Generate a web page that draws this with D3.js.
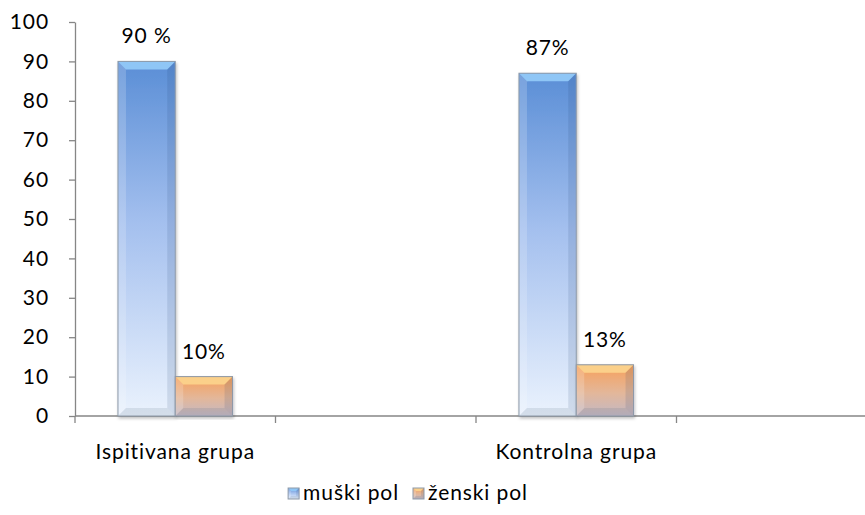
<!DOCTYPE html>
<html>
<head>
<meta charset="utf-8">
<script src="https://cdn.jsdelivr.net/npm/d3@7"></script>
<style>
  body { margin: 0; background: #fff; }
  text { font-family: Lato, "Liberation Sans", sans-serif; fill: #000; letter-spacing: 0.9px; }
</style>
</head>
<body>
<div id="vis"></div>
<script>
// categories (2nd and 4th slots are empty in the original)
var categories = ["Ispitivana grupa", "", "Kontrolna grupa", ""];
var seriesNames = ["muški pol", "ženski pol"];
var muskiValues = [90, null, 87, null];
var zenskiValues = [10, null, 13, null];
var muskiLabels = ["90 %", "", "87%", ""];
var zenskiLabels = ["10%", "", "13%", ""];
var yTicks = [0, 10, 20, 30, 40, 50, 60, 70, 80, 90, 100];

var width = 865, height = 515;
var margin = {top: 22, right: -12, bottom: 99, left: 75};
var fontSize = 21;

var svg = d3.select("#vis").append("svg")
    .attr("width", width)
    .attr("height", height);

var defs = svg.append("defs");

var grads = [
  {id: "gBlue", stops: [["0%", "#5a8ed6"], ["45%", "#a3bfee"], ["100%", "#eaf2fd"]]},
  {id: "gOrange", stops: [["0%", "#f7a05a"], ["55%", "#e3b79a"], ["100%", "#c3b8c4"]]}
];
grads.forEach(function (g) {
  var lg = defs.append("linearGradient").attr("id", g.id)
      .attr("x1", 0).attr("y1", 0).attr("x2", 0).attr("y2", 1);
  g.stops.forEach(function (s) {
    lg.append("stop").attr("offset", s[0]).attr("stop-color", s[1]);
  });
});
defs.append("filter").attr("id", "shadow")
  .attr("x", "-20%").attr("y", "-5%").attr("width", "140%").attr("height", "115%")
  .append("feDropShadow").attr("dx", 1).attr("dy", 2).attr("stdDeviation", 1.5)
  .attr("flood-color", "#000").attr("flood-opacity", 0.25);

var fills = {"muški pol": "url(#gBlue)", "ženski pol": "url(#gOrange)"};
var topBevel = {"muški pol": "#8fc6f6", "ženski pol": "#fbd08a"};

var x = d3.scaleBand()
    .domain(d3.range(categories.length))
    .range([margin.left, width - margin.right])
    .padding(0);

var xs = d3.scaleBand()
    .domain(seriesNames)
    .range([0, x.bandwidth()])
    .paddingInner(0)
    .paddingOuter(0.75);

var y = d3.scaleLinear()
    .domain([0, 100])
    .range([height - margin.bottom, margin.top]);

// axes
var yAxis = svg.append("g")
    .attr("transform", "translate(" + margin.left + ",0)")
    .call(d3.axisLeft(y).tickValues(yTicks).tickSize(6).tickSizeOuter(0).tickPadding(20));
yAxis.selectAll("path, line").attr("stroke", "#868686").attr("stroke-width", 1.3);
yAxis.selectAll("text").attr("font-size", fontSize).style("font-family", "Lato, sans-serif");

var xAxis = svg.append("g")
    .attr("transform", "translate(0," + y(0) + ")")
    .call(d3.axisBottom(x).tickSize(0).tickFormat(""));
xAxis.selectAll("path").attr("stroke", "#868686").attr("stroke-width", 1.3).attr("d", "M" + margin.left + ",0H" + (width - margin.right));

// tick marks at band boundaries
xAxis.selectAll("line.bound")
  .data(d3.range(categories.length))
  .join("line")
    .attr("class", "bound")
    .attr("x1", d => x(d)).attr("x2", d => x(d))
    .attr("y1", 0).attr("y2", 7)
    .attr("stroke", "#868686").attr("stroke-width", 1.3);

svg.append("g").selectAll("text")
  .data(d3.range(categories.length))
  .join("text")
    .attr("x", d => x(d) + x.bandwidth() / 2)
    .attr("y", y(0) + 43)
    .attr("text-anchor", "middle")
    .attr("font-size", fontSize)
    .text(d => categories[d]);

// bars
var rows = [];
d3.range(categories.length).forEach(function (i) {
  if (muskiValues[i] != null) rows.push({cat: i, s: "muški pol", v: muskiValues[i], lab: muskiLabels[i]});
  if (zenskiValues[i] != null) rows.push({cat: i, s: "ženski pol", v: zenskiValues[i], lab: zenskiLabels[i]});
});

function bevelBar(g, bx, by, bw, bh, s, b) {
  g.append("rect")
    .attr("x", bx).attr("y", by).attr("width", bw).attr("height", bh)
    .attr("fill", fills[s]);
  // top bevel
  g.append("path")
    .attr("d", `M${bx},${by}H${bx + bw}L${bx + bw - b},${by + b}H${bx + b}Z`)
    .attr("fill", topBevel[s]);
  // left bevel
  g.append("path")
    .attr("d", `M${bx},${by}L${bx + b},${by + b}V${by + bh - b}L${bx},${by + bh}Z`)
    .attr("fill", "#fff").attr("opacity", 0.18);
  // right bevel
  g.append("path")
    .attr("d", `M${bx + bw},${by}L${bx + bw - b},${by + b}V${by + bh - b}L${bx + bw},${by + bh}Z`)
    .attr("fill", "#1a3a6a").attr("opacity", 0.12);
  // bottom bevel
  g.append("path")
    .attr("d", `M${bx},${by + bh}L${bx + b},${by + bh - b}H${bx + bw - b}L${bx + bw},${by + bh}Z`)
    .attr("fill", "#5a6a80").attr("opacity", 0.15);
  g.append("rect")
    .attr("x", bx).attr("y", by).attr("width", bw).attr("height", bh)
    .attr("fill", "none").attr("stroke", "#8d99a8").attr("stroke-width", 1);
}

var barG = svg.append("g");
rows.forEach(function (d) {
  var g = barG.append("g").attr("filter", "url(#shadow)");
  bevelBar(g, x(d.cat) + xs(d.s), y(d.v), xs.bandwidth(), y(0) - y(d.v), d.s, 8);
});

svg.append("g").selectAll("text")
  .data(rows)
  .join("text")
    .attr("x", d => x(d.cat) + xs(d.s) + xs.bandwidth() / 2)
    .attr("y", d => y(d.v) - 18)
    .attr("text-anchor", "middle")
    .attr("font-size", fontSize)
    .text(d => d.lab);

// legend, laid out from measured text widths; second swatch sits at x=413
var lg = svg.append("g");
var lx = 0, swatchX = [];
seriesNames.forEach(function (s, i) {
  var g = lg.append("g");
  swatchX.push(lx);
  bevelBar(g, lx, 488, 11, 11, s, 3);
  var t = g.append("text")
    .attr("x", lx + 15)
    .attr("y", 500)
    .attr("font-size", fontSize)
    .text(s);
  lx += 15 + t.node().getComputedTextLength() + 14;
});
lg.attr("transform", "translate(" + (413 - swatchX[1]) + ",0)");
</script>
</body>
</html>
